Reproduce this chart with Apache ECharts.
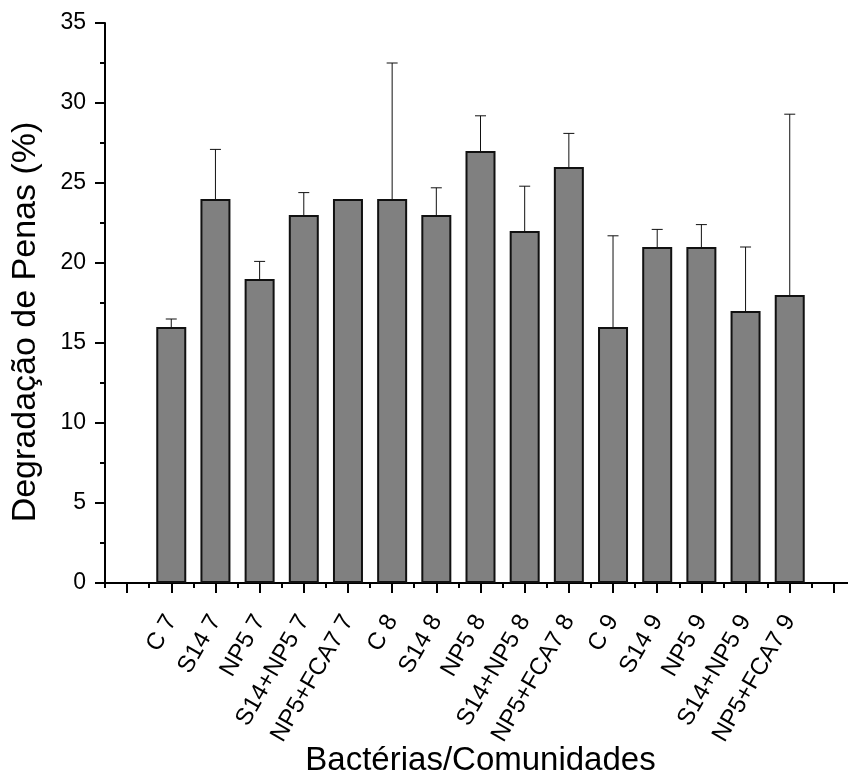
<!DOCTYPE html>
<html>
<head>
<meta charset="utf-8">
<script src="https://cdn.jsdelivr.net/npm/echarts@6/dist/echarts.min.js"></script>
<style>
  html, body { margin: 0; padding: 0; background: #fff; }
  #chart { width: 848px; height: 782px; }
</style>
</head>
<body>
<div id="chart"></div>
<script>
const categories = ['C 7', 'S14 7', 'NP5 7', 'S14+NP5 7', 'NP5+FCA7 7', 'C 8', 'S14 8', 'NP5 8', 'S14+NP5 8', 'NP5+FCA7 8', 'C 9', 'S14 9', 'NP5 9', 'S14+NP5 9', 'NP5+FCA7 9']
const means = [16, 24, 19, 23, 24, 24, 23, 27, 22, 26, 16, 21, 21, 17, 18]
const errors = [0.5, 3.1, 1.1, 1.4, 0, 8.5, 1.7, 2.2, 2.8, 2.1, 5.7, 1.1, 1.4, 4.0, 11.3]

const FONT = "'Liberation Sans', Arial, sans-serif"

// Origin leaves an empty slot before the first and after the last bar
const slots = ['', ...categories, '']
const barData = ['-', ...means, '-']
const errData = means
  .map((m, i) => [i + 1, m, m + errors[i]])
  .filter((d) => d[2] > d[1])

function renderError(params, api) {
  const x = api.value(0)
  const base = api.coord([x, api.value(1)])
  const top = api.coord([x, api.value(2)])
  const style = { stroke: '#111', lineWidth: 1 }
  return {
    type: 'group',
    children: [
      { type: 'line', shape: { x1: base[0], y1: base[1], x2: top[0], y2: top[1] }, style },
      { type: 'line', shape: { x1: top[0] - 5.5, y1: top[1], x2: top[0] + 5.5, y2: top[1] }, style },
    ],
  }
}

const chart = echarts.init(document.getElementById('chart'), null, { renderer: 'canvas' })

chart.setOption({
  animation: false,
  backgroundColor: '#fff',
  textStyle: { fontFamily: FONT, color: '#000' },
  grid: { left: 105, top: 23, width: 751, height: 560, containLabel: false, outerBoundsMode: 'none' },
  xAxis: [
    {
      type: 'category',
      data: slots,
      boundaryGap: true,
      name: 'Bactérias/Comunidades',
      nameLocation: 'middle',
      nameGap: 161,
      nameMoveOverlap: false,
      nameTextStyle: { fontSize: 33, color: '#000', fontFamily: FONT },
      axisLine: { lineStyle: { color: '#000', width: 2 } },
      axisTick: { show: true, alignWithLabel: true, interval: 0, length: 10, lineStyle: { color: '#000', width: 2 } },
      axisLabel: { interval: 0, rotate: 60, margin: 34, fontSize: 24, color: '#000', fontFamily: FONT },
      splitLine: { show: false },
    },
    {
      // minor ticks sit on the band boundaries
      type: 'category',
      data: slots,
      position: 'bottom',
      boundaryGap: true,
      axisLine: { show: false },
      axisTick: { show: true, interval: 0, length: 5, lineStyle: { color: '#000', width: 2 } },
      axisLabel: { show: false },
    },
  ],
  yAxis: {
    type: 'value',
    min: 0,
    max: 35,
    interval: 5,
    name: 'Degradação de Penas (%)',
    nameLocation: 'middle',
    nameGap: 62,
    nameMoveOverlap: false,
    nameTextStyle: { fontSize: 34, color: '#000', fontFamily: FONT, padding: [0, 38, 0, 0] },
    axisLine: { show: true, lineStyle: { color: '#000', width: 2 } },
    axisTick: { show: true, length: 10, lineStyle: { color: '#000', width: 2 } },
    minorTick: { show: true, splitNumber: 2, length: 5, lineStyle: { color: '#000', width: 2 } },
    axisLabel: { margin: 19, fontSize: 23, color: '#000', fontFamily: FONT },
    splitLine: { show: false },
  },
  series: [
    {
      type: 'bar',
      data: barData,
      barWidth: 30,
      itemStyle: { color: '#808080', borderColor: '#111', borderWidth: 2 },
    },
    {
      type: 'custom',
      data: errData,
      renderItem: renderError,
      encode: { x: 0, y: 2 },
      z: 3,
    },
  ],
})
</script>
</body>
</html>
